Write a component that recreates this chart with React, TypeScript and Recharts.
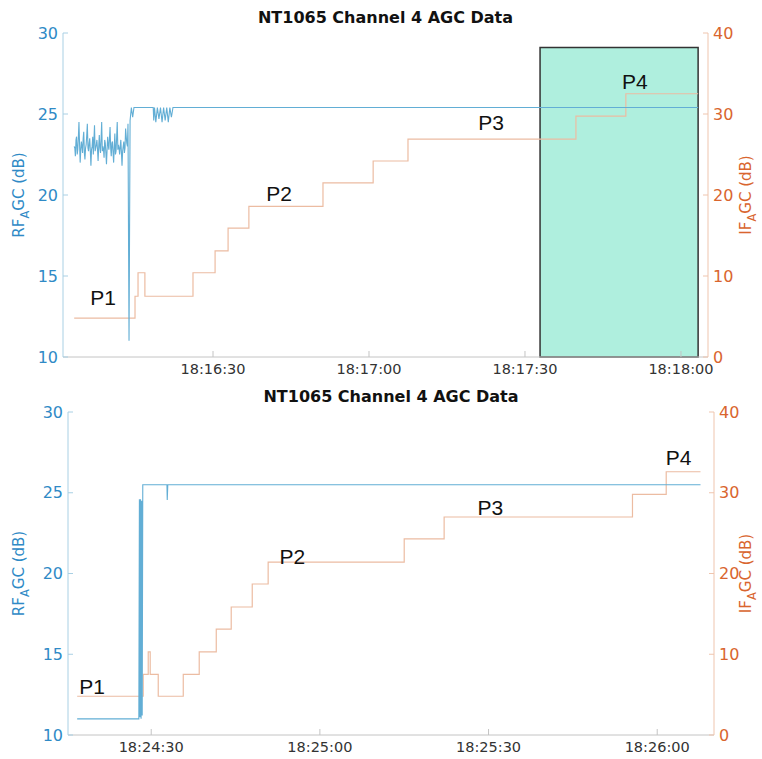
import React from "react";
import { ComposedChart, Line, XAxis, YAxis, ReferenceArea, ReferenceDot } from "recharts";

const FONT = "'DejaVu Sans', sans-serif";
const LABEL_FONT = "'Liberation Sans', Arial, sans-serif";
const BLUE = "#2f8ac6";
const ORANGE = "#d9652e";
const RF_LINE = "#62aed5";
const IF_LINE = "#ecbca2";
const GRID = "#c4c4c4";

// run 1 — seconds after 18:16:00
const rfRun1: [number, number][] = [
  [3.3, 23.0], [3.42, 22.9], [3.53, 22.4], [3.65, 23.4], [3.76, 23.6], [3.88, 22.5], [3.99, 22.8],
  [4.11, 23.6], [4.22, 24.5], [4.34, 23.1], [4.45, 22.0], [4.57, 22.8], [4.68, 23.3], [4.8, 23.0],
  [4.91, 22.6], [5.03, 23.5], [5.14, 23.9], [5.26, 22.6], [5.37, 22.2], [5.49, 22.9], [5.6, 23.1],
  [5.72, 23.7], [5.83, 24.4], [5.95, 22.9], [6.06, 22.7], [6.18, 23.2], [6.29, 23.5], [6.41, 22.7],
  [6.52, 21.8], [6.64, 22.8], [6.75, 23.0], [6.87, 23.6], [6.98, 22.5], [7.1, 23.4], [7.21, 24.3],
  [7.33, 22.7], [7.44, 22.9], [7.56, 23.1], [7.67, 23.4], [7.79, 22.8], [7.9, 22.1], [8.02, 23.0],
  [8.13, 23.7], [8.25, 22.9], [8.36, 22.6], [8.48, 23.5], [8.59, 24.5], [8.71, 22.7], [8.82, 23.0],
  [8.94, 22.8], [9.05, 22.3], [9.17, 23.4], [9.28, 23.2], [9.4, 22.6], [9.51, 21.9], [9.63, 22.8],
  [9.74, 23.6], [9.86, 23.1], [9.97, 22.8], [10.09, 23.5], [10.2, 24.2], [10.32, 22.9], [10.43, 22.4],
  [10.55, 23.2], [10.66, 23.3], [10.78, 22.6], [10.89, 22.0], [11.01, 23.0], [11.12, 23.8], [11.24, 22.5],
  [11.35, 22.7], [11.47, 23.6], [11.58, 24.5], [11.7, 22.8], [11.81, 23.1], [11.93, 22.9], [12.04, 22.5],
  [12.16, 23.0], [12.27, 23.4], [12.39, 22.6], [12.5, 21.8], [12.62, 22.7], [12.73, 23.0], [12.85, 23.3],
  [12.96, 22.6], [13.08, 22.9], [13.19, 24.1], [13.31, 23.6], [13.42, 23.2], [13.54, 23.0], [13.65, 24.4],
  [13.85, 11.0], [14.05, 24.6], [14.3, 25.4], [14.55, 24.8], [14.8, 25.4],
  [18.5, 25.4], [18.6, 24.6], [18.75, 25.4], [19.0, 24.5], [19.3, 25.4], [19.6, 24.7],
  [19.9, 25.4], [20.2, 24.5], [20.5, 25.4], [20.8, 24.6], [21.1, 25.4], [21.4, 24.5],
  [21.7, 25.4], [22.0, 24.8], [22.3, 25.4], [123.3, 25.4],
];
const ifRun1: [number, number][] = [
  [3.3, 4.8], [15.0, 7.5], [15.58, 10.4], [16.9, 7.5], [26.15, 10.4], [30.4, 13.1],
  [32.9, 15.9], [36.9, 18.6], [51.15, 21.5], [60.8, 24.2], [67.5, 26.9], [99.8, 29.75],
  [109.4, 32.5], [123.3, 32.5],
];
const pointsRun1 = [
  { name: "P1", t: 8.85, rf: 13.64 },
  { name: "P2", t: 42.7, rf: 20.12 },
  { name: "P3", t: 83.46, rf: 24.5 },
  { name: "P4", t: 111.15, rf: 26.98 },
];
const highlightRun1 = { t1: 92.9, t2: 123.3, rf: 29.1 };

// run 2 — seconds after 18:24:00
const rfRun2: [number, number][] = [
  [16.83, 11.0], [27.8, 11.0], [27.9, 24.6], [28.0, 11.1], [28.1, 24.6], [28.2, 11.0],
  [28.3, 24.5], [28.4, 11.2], [28.5, 25.5], [32.8, 25.5], [32.85, 24.55], [32.95, 25.5],
  [127.7, 25.5],
];
const ifRun2: [number, number][] = [
  [16.83, 4.8], [28.58, 7.5], [29.47, 10.3], [29.82, 7.5], [31.25, 4.8], [35.7, 7.5],
  [38.54, 10.3], [41.57, 13.1], [44.23, 15.85], [47.97, 18.7], [50.8, 21.4], [75.0, 24.3],
  [82.1, 27.0], [115.6, 29.8], [121.6, 32.6], [127.7, 32.6],
];
const pointsRun2 = [
  { name: "P1", t: 19.5, rf: 12.97 },
  { name: "P2", t: 55.1, rf: 21.02 },
  { name: "P3", t: 90.3, rf: 24.06 },
  { name: "P4", t: 123.8, rf: 27.15 },
];

const timeTicks = [30, 60, 90, 120];
const rfTicks = [10, 15, 20, 25, 30];
const ifTicks = [0, 10, 20, 30, 40];
const TITLE = "NT1065 Channel 4 AGC Data";

const pad = (n: number) => String(n).padStart(2, "0");
const timeFmt = (baseMin: number) => (t: number) => {
  const total = baseMin * 60 + t;
  return `18:${pad(Math.floor(total / 60))}:${pad(Math.round(total % 60))}`;
};

const XM = 7;
const YM = 5;

const makeBottomTick = (fmt: (t: number) => string) => (props: any) => {
  const { x, y, payload } = props;
  return (
    <g>
      <line x1={x} x2={x} y1={y - XM} y2={y - XM - 6} stroke={GRID} />
      <text x={x} y={y} dy="0.71em" textAnchor="middle" fontSize={14.5} fill="#333" fontFamily={FONT}>
        {fmt(payload.value)}
      </text>
    </g>
  );
};

const TopTick = (props: any) => {
  const { x, y } = props;
  return <line x1={x} x2={x} y1={y + XM} y2={y + XM + 6} stroke={GRID} />;
};

const LeftTick = (props: any) => {
  const { x, y, payload } = props;
  return (
    <g>
      <line x1={x + YM} x2={x + YM + 5} y1={y} y2={y} stroke="#a9d0e4" />
      <text x={x} y={y} dy="0.355em" textAnchor="end" fontSize={16} fill={BLUE} fontFamily={FONT}>
        {payload.value}
      </text>
    </g>
  );
};

const RightTick = (props: any) => {
  const { x, y, payload } = props;
  return (
    <g>
      <line x1={x - YM} x2={x - YM - 5} y1={y} y2={y} stroke="#efc5ae" />
      <text x={x} y={y} dy="0.355em" textAnchor="start" fontSize={16} fill={ORANGE} fontFamily={FONT}>
        {payload.value}
      </text>
    </g>
  );
};

const axisTitle = (main: string, cx: number, color: string) => (props: any) => {
  const vb = props.viewBox || {};
  const cy = (vb.y || 0) + (vb.height || 0) / 2;
  return (
    <text
      x={cx}
      y={cy}
      transform={`rotate(-90 ${cx} ${cy})`}
      textAnchor="middle"
      dominantBaseline="central"
      fontSize={15}
      fill={color}
      fontFamily={FONT}
    >
      <tspan>{main}</tspan>
      <tspan dy={6} fontSize={11.5}>A</tspan>
      <tspan dy={-6}>GC (dB)</tspan>
    </text>
  );
};

type PanelProps = {
  rf: [number, number][];
  ifd: [number, number][];
  points: { name: string; t: number; rf: number }[];
  domain: [number, number];
  baseMin: number;
  height: number;
  marginTop: number;
  xAxisH: number;
  leftW: number;
  rightW: number;
  highlight?: { t1: number; t2: number; rf: number };
};

function AgcPanel(p: PanelProps) {
  const rfData = p.rf.map(([t, v]) => ({ t, v }));
  const ifData = p.ifd.map(([t, v]) => ({ t, v }));
  const fmt = timeFmt(p.baseMin);
  return (
    <div style={{ position: "relative", width: 762, height: p.height }}>
      <div
        style={{
          position: "absolute",
          left: p.leftW,
          width: 762 - p.leftW - p.rightW,
          top: p.marginTop - 25,
          textAlign: "center",
          fontFamily: FONT,
          fontWeight: "bold",
          fontSize: 16,
          color: "#111",
          lineHeight: "20px",
        }}
      >
        {TITLE}
      </div>
      <ComposedChart width={762} height={p.height} margin={{ top: p.marginTop, right: 0, bottom: 0, left: 0 }}>
        <XAxis
          xAxisId="t"
          dataKey="t"
          type="number"
          domain={p.domain}
          ticks={timeTicks}
          allowDataOverflow
          height={p.xAxisH}
          tickSize={0}
          tickMargin={XM}
          tick={makeBottomTick(fmt)}
          axisLine={{ stroke: GRID }}
          tickLine={false}
        />
        <XAxis
          xAxisId="top"
          orientation="top"
          type="number"
          domain={p.domain}
          ticks={timeTicks}
          allowDataOverflow
          height={0}
          tickSize={0}
          tickMargin={XM}
          tick={TopTick}
          axisLine={{ stroke: GRID }}
          tickLine={false}
        />
        <YAxis
          yAxisId="rf"
          orientation="left"
          type="number"
          domain={[10, 30]}
          ticks={rfTicks}
          width={p.leftW}
          tickSize={0}
          tickMargin={YM}
          tick={LeftTick}
          tickLine={false}
          axisLine={{ stroke: "#a9d0e4" }}
          label={axisTitle("RF", 19, BLUE)}
        />
        <YAxis
          yAxisId="if"
          orientation="right"
          type="number"
          domain={[0, 40]}
          ticks={ifTicks}
          width={p.rightW}
          tickSize={0}
          tickMargin={YM}
          tick={RightTick}
          tickLine={false}
          axisLine={{ stroke: "#efc5ae" }}
          label={axisTitle("IF", 746, ORANGE)}
        />
        <Line
          xAxisId="t"
          yAxisId="if"
          data={ifData}
          dataKey="v"
          type="stepAfter"
          stroke={IF_LINE}
          strokeWidth={1.2}
          dot={false}
          isAnimationActive={false}
        />
        <Line
          xAxisId="t"
          yAxisId="rf"
          data={rfData}
          dataKey="v"
          type="linear"
          stroke={RF_LINE}
          strokeWidth={1.1}
          dot={false}
          isAnimationActive={false}
        />
        {p.points.map((pt) => (
          <ReferenceDot
            key={pt.name}
            xAxisId="t"
            yAxisId="rf"
            x={pt.t}
            y={pt.rf}
            r={0}
            fill="none"
            stroke="none"
            label={{ value: pt.name, position: "center", fontSize: 21, fill: "#111", fontFamily: LABEL_FONT }}
          />
        ))}
        {p.highlight && (
          <ReferenceArea
            xAxisId="t"
            yAxisId="rf"
            x1={p.highlight.t1}
            x2={p.highlight.t2}
            y1={10}
            y2={p.highlight.rf}
            fill="#5fe0bd"
            fillOpacity={0.5}
            stroke="#333"
            strokeWidth={1.5}
          />
        )}
      </ComposedChart>
    </div>
  );
}

export default function App() {
  return (
    <div style={{ position: "absolute", left: 0, top: 0, width: 762, height: 759, background: "#fff" }}>
      <AgcPanel
        rf={rfRun1}
        ifd={ifRun1}
        points={pointsRun1}
        domain={[1.15, 125.2]}
        baseMin={16}
        height={380}
        marginTop={33}
        xAxisH={23}
        leftW={63}
        rightW={54}
        highlight={highlightRun1}
      />
      <AgcPanel
        rf={rfRun2}
        ifd={ifRun2}
        points={pointsRun2}
        domain={[15.2, 130.1]}
        baseMin={24}
        height={379}
        marginTop={32}
        xAxisH={24}
        leftW={68}
        rightW={48}
      />
    </div>
  );
}
